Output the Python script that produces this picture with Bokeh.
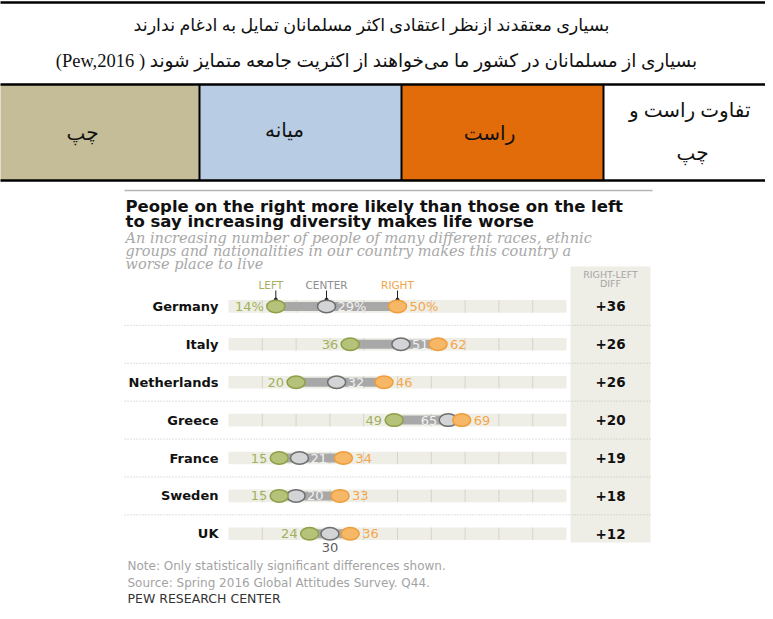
from bokeh.plotting import figure
from bokeh.models import Range1d
from bokeh.core.properties import value
from bokeh.embed import file_html
from bokeh.resources import INLINE

# ---------------- data ----------------
countries = ["Germany", "Italy", "Netherlands", "Greece", "France", "Sweden", "UK"]
left_vals = [14, 36, 20, 49, 15, 15, 24]
center_vals = [29, 51, 32, 65, 21, 20, 30]
right_vals = [50, 62, 46, 69, 34, 33, 36]
diff_vals = [36, 26, 26, 20, 19, 18, 12]
grid_ticks = [10, 20, 30, 40, 50, 60, 70, 80, 90]
scale_max = 100

title_lines = ["People on the right more likely than those on the left",
               "to say increasing diversity makes life worse"]
subtitle_lines = ["An increasing number of people of many different races, ethnic",
                  "groups and nationalities in our country makes this country a",
                  "worse place to live"]
note_lines = ["Note: Only statistically significant differences shown.",
              "Source: Spring 2016 Global Attitudes Survey. Q44."]
credit = "PEW RESEARCH CENTER"
header_fa_1 = "بسیاری معتقدند ازنظر اعتقادی اکثر مسلمانان تمایل به ادغام ندارند"
header_fa_2 = "بسیاری از مسلمانان در کشور ما می‌خواهند از اکثریت جامعه متمایز شوند ( Pew,2016)"
cell_labels = ["چپ", "میانه", "راست"]
diff_cell = ["تفاوت راست و", "چپ"]

# ---------------- layout (pixel geometry) ----------------
W, H = 765, 611
OFF = 8


def fx(x):
    return x - OFF


def fy(y):
    return y - OFF


X0 = fx(236)      # pixel of 0 %
KX = 3.38         # px per percentage point
Y0 = fy(313.9)    # pixel of first row
KY = 37.9         # px per row

p = figure(width=W, height=H, x_range=Range1d(0, W), y_range=Range1d(H, 0),
           output_backend="svg", toolbar_location=None,
           x_axis_type=None, y_axis_type=None, min_border=0,
           outline_line_color=None)
p.background_fill_color = "white"
p.border_fill_color = "white"
p.extra_x_ranges = {"pct": Range1d(-X0 / KX, (W - X0) / KX)}
p.extra_y_ranges = {"row": Range1d((H - Y0) / KY, -Y0 / KY)}

rows = list(range(len(countries)))
RLE, PDF = "\u202B", "\u202C"
FA = value("Liberation Serif, DejaVu Sans")
SANS = value("DejaVu Sans")
SERIF = value("DejaVu Serif")

# ---------------- Persian table ----------------
cell_edges = [fx(6), fx(207), fx(409), fx(611)]
cell_colors = ["#C4BD97", "#B8CCE4", "#E36C0A"]
p.quad(left=cell_edges[:3], right=cell_edges[1:], top=fy(92), bottom=fy(188),
       fill_color=cell_colors, line_color=None)
# borders
p.segment(x0=[fx(4), fx(4), fx(4)], x1=[W, W, W],
          y0=[fy(10), fy(92), fy(188)], y1=[fy(10), fy(92), fy(188)],
          line_color="black", line_width=2.5)
p.segment(x0=[fx(6.5)], x1=[fx(6.5)], y0=[fy(9)], y1=[H],
          line_color="black", line_width=2)
p.segment(x0=cell_edges[1:], x1=cell_edges[1:], y0=[fy(92)] * 3, y1=[fy(188)] * 3,
          line_color="black", line_width=2)

p.text(x=[fx(379)], y=[fy(32)], text=[RLE + header_fa_1 + PDF],
       text_font=FA, text_font_size="17.5px",
       text_align="center", text_baseline="middle", text_color="#111111")
p.text(x=[fx(384)], y=[fy(68)], text=[RLE + header_fa_2 + PDF],
       text_font=FA, text_font_size="18.5px",
       text_align="center", text_baseline="middle", text_color="#111111")
p.text(x=[fx(90), fx(292), fx(497)], y=[fy(140), fy(137), fy(140)], text=cell_labels,
       text_font=FA, text_font_size="20px",
       text_align="center", text_baseline="middle", text_color="#111111")
p.text(x=[fx(758), fx(700)], y=[fy(117), fy(160)], text=diff_cell,
       text_font=FA, text_font_size="20px",
       text_align=["right", "center"], text_baseline="middle", text_color="#111111")

# ---------------- Pew chart: headings ----------------
p.segment(x0=[fx(132)], x1=[fx(660)], y0=[fy(198)], y1=[fy(198)],
          line_color="#B5B5B5", line_width=1.5)
p.text(x=[fx(133)] * 2, y=[fy(214), fy(229)], text=title_lines,
       text_font=SANS, text_font_size="16.5px", text_font_style="bold",
       text_align="left", text_baseline="middle", text_color="#111111")
p.text(x=[fx(133)] * 3, y=[fy(245), fy(258.5), fy(271)], text=subtitle_lines,
       text_font=SERIF, text_font_size="14.5px", text_font_style="italic",
       text_align="left", text_baseline="middle", text_color="#A8A8A8")

# diff column
p.quad(left=[fx(578)], right=[fx(658)], top=[fy(274)], bottom=[fy(550)],
       fill_color="#EFEEE6", line_color=None)
p.text(x=[fx(618)] * 2, y=[fy(282), fy(291)], text=["RIGHT-LEFT", "DIFF"],
       text_font=SANS, text_font_size="9.5px",
       text_align="center", text_baseline="middle", text_color="#A5A5A5")

# separators
sep = [r + 0.5 for r in rows[:-1]]
p.segment(x0=[fx(132)] * len(sep), x1=[fx(658)] * len(sep), y0=sep, y1=sep,
          y_range_name="row", line_color="#BDBDBD", line_width=1, line_dash="1 2")

# tracks
p.hbar(y=rows, left=0, right=scale_max, height=12.6 / KY, fill_color="#EFEEE6",
       line_color=None, x_range_name="pct", y_range_name="row")
gx = [g for r in rows for g in grid_ticks]
gy0 = [r - 6.3 / KY for r in rows for g in grid_ticks]
gy1 = [r + 6.3 / KY for r in rows for g in grid_ticks]
p.segment(x0=gx, x1=gx, y0=gy0, y1=gy1, line_color="#D6D4C9", line_width=1,
          x_range_name="pct", y_range_name="row")

# range bar
p.hbar(y=rows, left=left_vals, right=right_vals, height=9 / KY, fill_color="#A8A8A8",
       line_color=None, x_range_name="pct", y_range_name="row")

# legend ticks above Germany
hx = [left_vals[0], center_vals[0], right_vals[0]]
p.segment(x0=hx, x1=hx, y0=[fy(298)] * 3, y1=[fy(307)] * 3, line_color="#222222",
          line_width=1, x_range_name="pct")
p.scatter(x=hx, y=[fy(307)] * 3, size=3, color="#222222", x_range_name="pct")
p.text(x=hx, y=[fy(292.5)] * 3, x_offset=[-5, 0, 0], text=["LEFT", "CENTER", "RIGHT"],
       text_font=SANS, text_font_size="10.5px", text_align="center", text_baseline="middle",
       text_color=["#A6B160", "#8E8E8E", "#F3A447"], x_range_name="pct")

# dots
dot_kw = dict(width=18, height=12.5, width_units="screen", height_units="screen",
              line_width=1.5, x_range_name="pct", y_range_name="row")
p.ellipse(x=center_vals, y=rows, fill_color="#D3D4D6", line_color="#6E6E6E", **dot_kw)
p.ellipse(x=left_vals, y=rows, fill_color="#B5C27A", line_color="#8E9F47", **dot_kw)
p.ellipse(x=right_vals, y=rows, fill_color="#F6B867", line_color="#EF9D3B", **dot_kw)

# value labels
fmt = lambda v, i: f"{v}%" if i == 0 else f"{v}"
lbl_kw = dict(text_font=SANS, text_font_size="13px", text_baseline="middle",
              x_range_name="pct", y_range_name="row")
p.text(x=left_vals, y=rows, text=[fmt(v, i) for i, v in enumerate(left_vals)],
       x_offset=-12, text_align="right", text_color="#A2B15B", **lbl_kw)
p.text(x=right_vals, y=rows, text=[fmt(v, i) for i, v in enumerate(right_vals)],
       x_offset=12, text_align="left", text_color="#F4A64C", **lbl_kw)

center_place = {"Greece": "left", "UK": "below"}
for place, align, xo, yo, col in [("right", "left", 11, 0, "#F2F2F2"),
                                  ("left", "right", -11, 0, "#F2F2F2"),
                                  ("below", "center", 0, 14, "#5E5E5E")]:
    idx = [i for i, c in enumerate(countries) if center_place.get(c, "right") == place]
    p.text(x=[center_vals[i] for i in idx], y=[rows[i] for i in idx],
           text=[fmt(center_vals[i], i) for i in idx], x_offset=xo, y_offset=yo,
           text_align=align, text_color=col, **lbl_kw)

# country names
p.text(x=[fx(226)] * len(rows), y=rows, text=countries, y_range_name="row",
       text_font=SANS, text_font_size="13px", text_font_style="bold",
       text_align="right", text_baseline="middle", text_color="#111111")

# diff values
p.text(x=[fx(618)] * len(rows), y=rows, text=[f"+{d}" for d in diff_vals],
       y_range_name="row", text_font=SANS, text_font_size="13.5px",
       text_font_style="bold", text_align="center", text_baseline="middle",
       text_color="#111111")

# notes
p.text(x=[fx(135)] * 2, y=[fy(573.5), fy(590)], text=note_lines,
       text_font=SANS, text_font_size="12px", text_align="left",
       text_baseline="middle", text_color="#A3A3A3")
p.text(x=[fx(135)], y=[fy(606)], text=[credit],
       text_font=SANS, text_font_size="12.5px", text_align="left",
       text_baseline="middle", text_color="#333333")

open("out.html", "w").write(file_html(p, INLINE))
